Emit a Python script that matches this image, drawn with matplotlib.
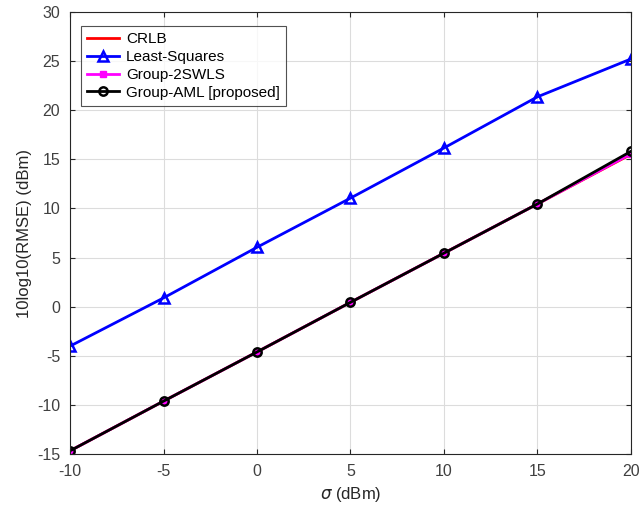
import matplotlib
matplotlib.use("Agg")
import matplotlib.pyplot as plt
import numpy as np

# data
sigma = [-10, -5, 0, 5, 10, 15, 20]
crlb = [-14.65, -9.6, -4.6, 0.45, 5.45, 10.45, 15.5]
least_squares = [-4.0, 0.9, 6.05, 11.05, 16.15, 21.35, 25.2]
group_2swls = [-14.65, -9.6, -4.6, 0.45, 5.45, 10.45, 15.55]
group_aml = [-14.65, -9.6, -4.6, 0.45, 5.45, 10.45, 15.8]

plt.rcParams['font.family'] = ['Liberation Sans', 'DejaVu Sans']
plt.rcParams['axes.unicode_minus'] = False

fig = plt.figure(figsize=(6.43, 5.15), dpi=100)
ax = fig.add_axes([0.109, 0.118, 0.872, 0.859])

ax.plot(sigma, crlb, color='red', lw=2, label='CRLB')
ax.plot(sigma, least_squares, color='blue', lw=2, marker='^', ms=7,
        mfc='none', mew=1.8, label='Least-Squares')
ax.plot(sigma, group_2swls, color='magenta', lw=2, marker='s', ms=5,
        label='Group-2SWLS')
ax.plot(sigma, group_aml, color='black', lw=2, marker='o', ms=6,
        mfc='none', mew=1.8, label='Group-AML [proposed]')

ax.set_xlim(-10, 20)
ax.set_ylim(-15, 30)
ax.set_xticks(np.arange(-10, 21, 5))
ax.set_yticks(np.arange(-15, 31, 5))
ax.grid(True, color='#dcdcdc', lw=0.8)
ax.tick_params(direction='in', labelsize=11.5, labelcolor='#404040', color='#262626',
               top=True, right=True, labeltop=False, labelright=False, pad=7)
for s in ax.spines.values():
    s.set_color('#262626')
    s.set_linewidth(0.8)

ax.set_xlabel(r'$\sigma$ (dBm)', fontsize=12, color='#262626')
ax.set_ylabel('10log10(RMSE) (dBm)', fontsize=12, color='#262626')

leg = ax.legend(loc='upper left', fontsize=11, fancybox=False, edgecolor='#262626',
                handlelength=2.1, handletextpad=0.45, borderpad=0.4,
                labelspacing=0.25, bbox_to_anchor=(0.006, 0.985))
leg.get_frame().set_linewidth(0.8)

fig.savefig('out.png', dpi=100)
